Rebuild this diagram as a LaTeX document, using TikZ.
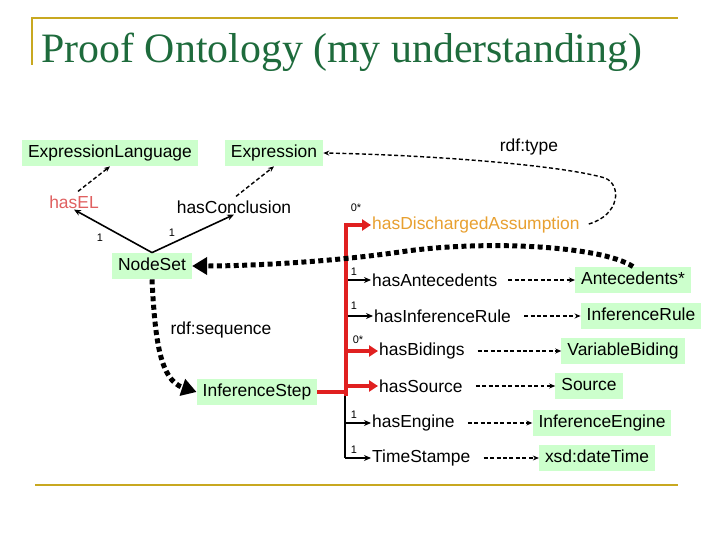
\documentclass[tikz,border=0pt]{standalone}
\usepackage{fontspec}
\setmainfont{Liberation Sans}
\newfontfamily\titlefont{Liberation Serif}
\usetikzlibrary{arrows.meta}
\definecolor{boxg}{HTML}{CCFFCC}
\definecolor{gold}{HTML}{C8A820}
\definecolor{tgreen}{HTML}{1E6B3C}
\definecolor{redl}{HTML}{E02020}
\begin{document}
\begin{tikzpicture}[x=1bp,y=-1bp,
  cls/.style={fill=boxg,inner xsep=6pt,inner ysep=5pt,font=\fontsize{17.5}{19}\selectfont,text height=13pt,text depth=3.5pt},
  prop/.style={inner sep=1pt,font=\fontsize{17.5}{19}\selectfont,anchor=west},
  card/.style={inner sep=0pt,font=\fontsize{11}{12}\selectfont},
  dsh/.style={dash pattern=on 4pt off 2.5pt,-{Stealth[length=6pt,width=5pt]},line width=1.4pt},
  dot/.style={line width=5pt,dash pattern=on 5pt off 3.5pt,-{Triangle[length=15pt,width=17pt]}},
  blk/.style={line width=1.6pt,-{Stealth[length=7pt,width=6pt]}},
  red/.style={redl,line width=4.5pt,-{Triangle[length=9pt,width=11pt]}}]
\useasboundingbox[fill=white] (0,0) rectangle (720,540);
\draw[gold,line width=2.5pt] (32,65) -- (32,18) -- (678,18);
\draw[gold,line width=2.5pt] (35,485) -- (678,485);
\node[font=\titlefont\fontsize{42}{44}\selectfont,text=tgreen,anchor=west] (title) at (38,52) {Proof Ontology (my understanding)};

\node[cls] (el) at (110,153) {ExpressionLanguage};
\node[cls] (ex) at (274,153) {Expression};
\node[prop,anchor=center,text={rgb,255:red,224;green,96;blue,96}] (hasel) at (74,202) {hasEL};
\node[prop,anchor=center] (hascon) at (234,207) {hasConclusion};
\node[cls] (ns) at (152,266) {NodeSet};
\node[prop,anchor=center] (seq) at (221,330) {rdf:sequence};
\node[cls] (is) at (257,392) {InferenceStep};
\node[prop,anchor=center] (rdft) at (529,147) {rdf:type};

\draw[blk] (ns.north) -- (hasel.south);
\draw[blk] (ns.north) -- (hascon.south);
\node[card] (c1) at (100,238) {1};
\node[card] (c2) at (172,233) {1};
\draw[dsh] (hasel.north) ++(4,-3) coordinate (a1) -- (el.south);
\draw[dsh] (hascon.north) ++(2,-3) coordinate (a2) -- (ex.south);

\node[prop,text={rgb,255:red,232;green,160;blue,48}] (hda) at (371,225) {hasDischargedAssumption};
\node[prop] (hant) at (371,280) {hasAntecedents};
\node[prop] (hir) at (373,316) {hasInferenceRule};
\node[prop] (hbi) at (378,351) {hasBidings};
\node[prop] (hso) at (378,386) {hasSource};
\node[prop] (hen) at (371,423) {hasEngine};
\node[prop] (hts) at (371,458) {TimeStampe};

\node[cls] (ant) at (633,280) {Antecedents*};
\node[cls] (ir) at (641,316) {InferenceRule};
\node[cls] (vb) at (623,351) {VariableBiding};
\node[cls] (src) at (589,386) {Source};
\node[cls] (ie) at (602,423) {InferenceEngine};
\node[cls] (xsd) at (597,458) {xsd:dateTime};

\draw[line width=1.6pt] (is.east) -- (345,392);
\draw[line width=1.6pt] (345,280) -- (345,458);
\foreach \p in {hant,hir,hen,hts}{\draw[blk] (345,0 |- \p.west) -- (\p.west);}
\draw[redl,line width=4.5pt] (346,223) -- (346,396) (is.east) -- (346,392);
\foreach \p in {hda,hbi,hso}{\draw[red] (346,0 |- \p.west) -- (\p.west);}
\node[card] at (356,208) {0*};
\node[card] at (354,272) {1};
\node[card] at (354,306) {1};
\node[card] at (358,340) {0*};
\node[card] at (354,415) {1};
\node[card] at (354,450) {1};

\draw[dsh] (hant.east) ++(10,0) -- (ant.west);
\draw[dsh] (hir.east) ++(12,0) -- (ir.west);
\draw[dsh] (hbi.east) ++(12,0) -- (vb.west);
\draw[dsh] (hso.east) ++(12,0) -- (src.west);
\draw[dsh] (hen.east) ++(12,0) -- (ie.west);
\draw[dsh] (hts.east) ++(12,0) -- (xsd.west);

\draw[dsh] (hda.east) ++(8,-1) .. controls (620,215) and (622,185) .. (605,178) .. controls (560,165) and (430,155) .. (ex.east);
\draw[dot] (ant.north) .. controls (600,245) and (480,240) .. (400,252) .. controls (330,262) and (250,266) .. (ns.east);
\draw[dot] (ns.south) .. controls (155,340) and (160,380) .. (is.west);
\end{tikzpicture}
\end{document}
